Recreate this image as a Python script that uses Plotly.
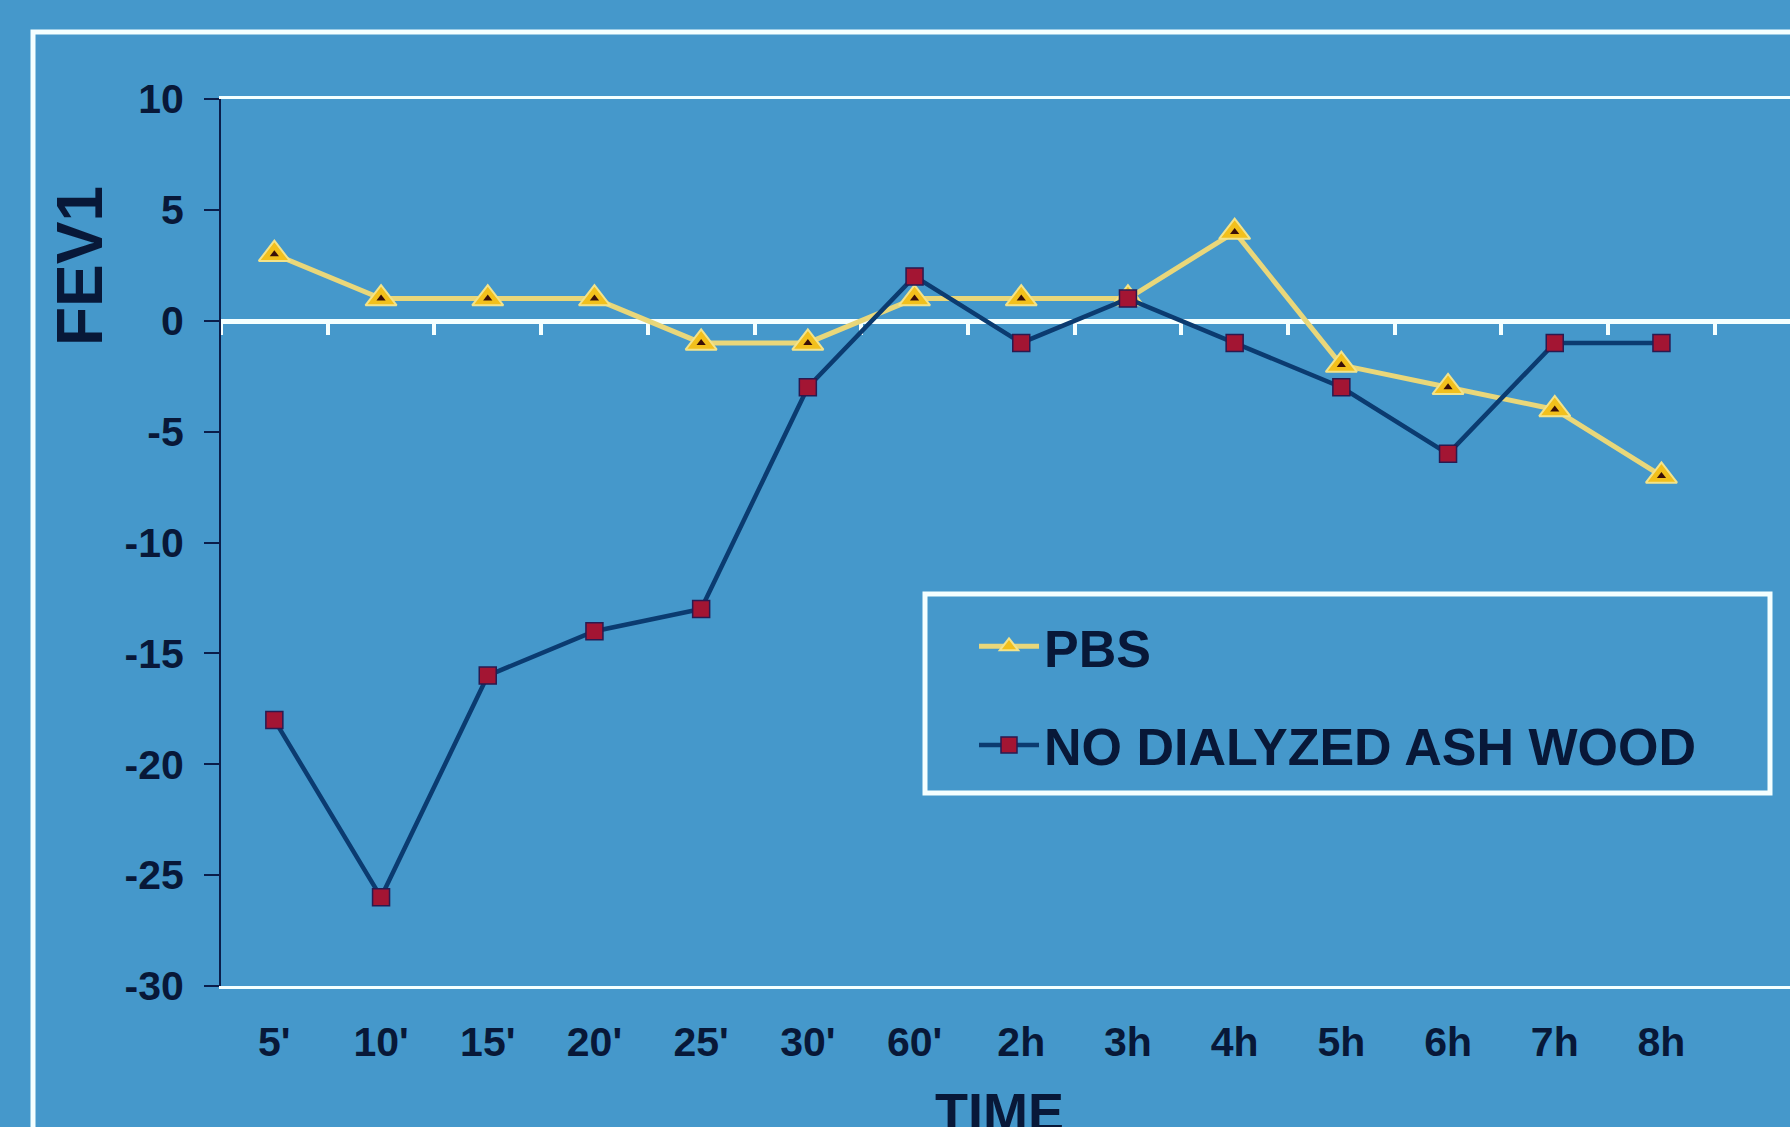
import plotly.graph_objects as go

# ---- data ----
time_labels = ["5'", "10'", "15'", "20'", "25'", "30'", "60'", "2h", "3h", "4h", "5h", "6h", "7h", "8h"]
pbs_values = [3, 1, 1, 1, -1, -1, 1, 1, 1, 4, -2, -3, -4, -7]
ash_values = [-18, -26, -16, -14, -13, -3, 2, -1, 1, -1, -3, -6, -1, -1]
y_tick_vals = [10, 5, 0, -5, -10, -15, -20, -25, -30]
y_tick_text = ["10", "5", "0", "-5", "-10", "-15", "-20", "-25", "-30"]
series_names = ["PBS", "NO DIALYZED ASH WOOD"]

BG = "#4598CB"
NAVY = "#0B1E4A"
TXT = "#081838"
WHITE = "#F4FFFF"
FONT = "Liberation Sans, Arial, sans-serif"

W, H = 1790, 1127
ML, MT, MR, MB = 221, 99, 0, 141
PW, PH = W - ML - MR, H - MT - MB
cat_px = 106.7


def px_x(p):
    return (p - ML) / PW


def px_y(p):
    return (H - MB - p) / PH


fig = go.Figure()

fig.add_trace(go.Scatter(
    x=time_labels, y=pbs_values, name=series_names[0], mode="lines+markers",
    legendgroup="a",
    line=dict(color="#E9D77A", width=5),
    marker=dict(symbol="triangle-up", size=27, color="#F2C01C",
                line=dict(color="#F3E38A", width=2)),
))
fig.add_trace(go.Scatter(
    x=time_labels, y=pbs_values, mode="markers", showlegend=False,
    hoverinfo="skip", legendgroup="a",
    marker=dict(symbol="triangle-up", size=8, color="#3A1008"),
))
fig.add_trace(go.Scatter(
    x=time_labels, y=ash_values, name=series_names[1], mode="lines+markers",
    legendgroup="b",
    line=dict(color="#0B3B70", width=4.5),
    marker=dict(symbol="square", size=17, color="#A31533",
                line=dict(color="#2A1A50", width=1.5)),
))

n_vis = (W - ML) / cat_px
xr = [-0.5, -0.5 + n_vis]
boundaries = [i - 0.5 for i in range(len(time_labels) + 2)]

# empty trace so the zero-line axis (x2) is drawn
fig.add_trace(go.Scatter(x=[None], y=[None], xaxis="x2", yaxis="y",
                         mode="markers", showlegend=False, hoverinfo="skip"))

fig.update_layout(
    width=W, height=H,
    margin=dict(l=ML, r=MR, t=MT, b=MB, pad=0),
    paper_bgcolor=BG, plot_bgcolor=BG,
    font=dict(family=FONT, color=TXT, size=41, weight="bold"),
    showlegend=True,
    legend=dict(
        x=px_x(974), y=px_y(606), xanchor="left", yanchor="top",
        bgcolor="rgba(0,0,0,0)", borderwidth=0,
        font=dict(size=52, family=FONT, color=TXT, weight="bold"),
        itemwidth=60, tracegroupgap=28, itemsizing="trace",
    ),
    xaxis=dict(
        type="category", range=xr, showgrid=False, zeroline=False,
        showline=True, mirror=True, linecolor=WHITE, linewidth=3,
        ticks="", ticklabelstandoff=18,
        tickfont=dict(size=41, family=FONT, color=TXT, weight="bold"),
    ),
    xaxis2=dict(
        overlaying="x", anchor="free", position=0.75, type="linear",
        range=xr, showgrid=False, zeroline=False,
        showline=True, linecolor=WHITE, linewidth=5,
        ticks="outside", tickcolor=WHITE, ticklen=11, tickwidth=4,
        tickmode="array", tickvals=boundaries,
        showticklabels=False, layer="below traces",
    ),
    yaxis=dict(
        range=[-30, 10], showgrid=False, zeroline=False,
        showline=True, linecolor=NAVY, linewidth=2,
        ticks="outside", tickcolor=NAVY, ticklen=15, tickwidth=2,
        tickmode="array", tickvals=y_tick_vals, ticktext=y_tick_text,
        ticklabelstandoff=12,
        tickfont=dict(size=41, family=FONT, color=TXT, weight="bold"),
    ),
    shapes=[
        dict(type="rect", xref="paper", yref="paper",
             x0=px_x(33), x1=px_x(1900), y0=px_y(1300), y1=px_y(32),
             line=dict(color=WHITE, width=5), fillcolor="rgba(0,0,0,0)", layer="below"),
        dict(type="rect", xref="paper", yref="paper",
             x0=px_x(925), x1=px_x(1770), y0=px_y(793), y1=px_y(594),
             line=dict(color=WHITE, width=5), fillcolor="rgba(0,0,0,0)"),
    ],
    annotations=[
        dict(text="FEV1", textangle=-90, xref="paper", yref="paper",
             x=px_x(80), y=px_y(266), xanchor="center", yanchor="middle",
             showarrow=False, font=dict(size=64, family=FONT, color=TXT, weight="bold")),
        dict(text="TIME", xref="paper", yref="paper",
             x=px_x(999), y=px_y(1080), xanchor="center", yanchor="top",
             showarrow=False, font=dict(size=54, family=FONT, color=TXT, weight="bold")),
    ],
)

fig.write_html(
    "out.html",
    config={"displayModeBar": False},
    post_script="document.body.style.margin='0';document.body.style.background='%s';" % BG,
)
